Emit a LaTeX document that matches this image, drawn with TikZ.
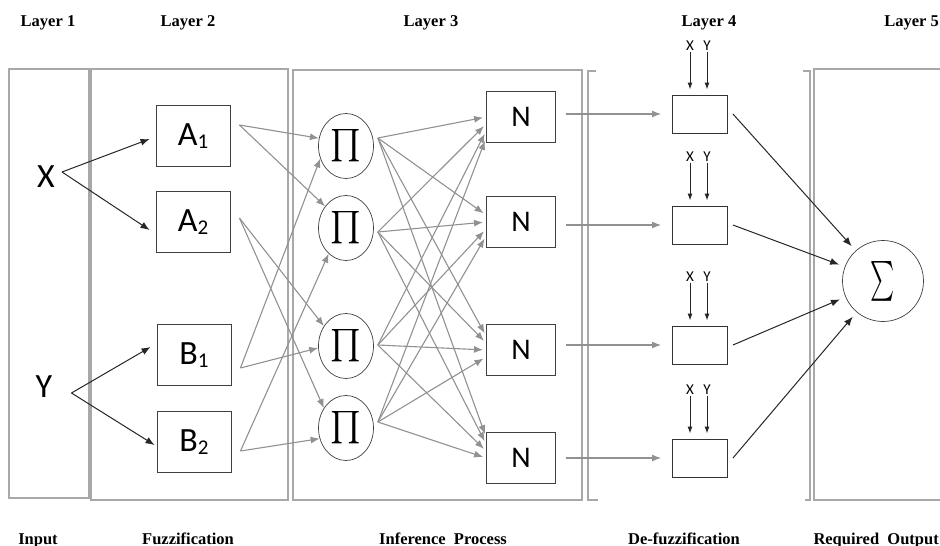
\documentclass[tikz,border=0pt]{standalone}
\usepackage{fontspec}
\setmainfont{Liberation Serif}
\newfontfamily\cfont{Carlito}
\usepackage{amsmath}
\usepackage{graphicx}
\usetikzlibrary{positioning,shapes.geometric,arrows.meta}
\definecolor{panelgray}{RGB}{168,168,168}
\definecolor{linkgray}{RGB}{145,145,145}

\begin{document}
\begin{tikzpicture}[
    x=1pt, y=-1pt,
    layerlbl/.style={font=\bfseries\fontsize{16.5}{16.5}\selectfont, anchor=base},
    panel/.style={draw=panelgray, line width=1.6pt},
    mfbox/.style={draw=black!75, line width=0.9pt, minimum width=74pt, minimum height=61pt, inner sep=0pt, font=\cfont\fontsize{34}{34}\selectfont},
    normbox/.style={draw=black!75, line width=0.9pt, minimum width=69pt, minimum height=51pt, inner sep=0pt, font=\cfont\fontsize{30}{30}\selectfont},
    defbox/.style={draw=black!80, line width=0.9pt, minimum width=55pt, minimum height=38pt, inner sep=0pt},
    rulenode/.style={ellipse, draw=black!75, line width=0.7pt, minimum width=55pt, minimum height=65pt, inner sep=0pt},
    inp/.style={font=\cfont\fontsize{34}{34}\selectfont, inner sep=3pt},
    xylbl/.style={font=\cfont\fontsize{15}{15}\selectfont, inner sep=1pt},
    garrow/.style={draw=linkgray, line width=1.1pt, -{Latex[length=9pt,width=7pt]}},
    barrow/.style={draw=black!85, line width=1pt, -{Latex[length=9pt,width=7pt]}},
    sarrow/.style={draw=black!85, line width=1pt, -{Latex[length=7pt,width=5pt]}}
]
    \useasboundingbox (0,0) rectangle (940,546);

    % Layer frames
    \draw[panel] (9,69) rectangle (89,498);
    \draw[panel] (91,69) rectangle (288,500);
    \draw[panel] (293,70) rectangle (582,500);
    \draw[panel] (596,71) -- (588,71) -- (588,500) -- (598,500);
    \draw[panel] (803,71) -- (810,71) -- (810,500) -- (805,500);
    \draw[panel] (960,69) -- (814,69) -- (814,500) -- (960,500);

    % Titles
    \node[layerlbl] (t1) at (48,27) {Layer 1};
    \node[layerlbl] (t2) at (188,27) {Layer 2};
    \node[layerlbl] (t3) at (431,27) {Layer 3};
    \node[layerlbl] (t4) at (709,27) {Layer 4};
    \node[layerlbl, anchor=base east, inner sep=1pt] (t5) at (940,27) {Layer 5};
    \node[layerlbl] (b1) at (38,544) {Input};
    \node[layerlbl] (b2) at (188,544) {Fuzzification};
    \node[layerlbl] (b3) at (443,544) {Inference\ \ Process};
    \node[layerlbl] (b4) at (684,544) {De-fuzzification};
    \node[layerlbl, anchor=base east, inner sep=1pt] (b5) at (940,544) {Required\ \ Output};

    % Inputs
    \node[inp] (X) at (46,177) {X};
    \node[inp] (Y) at (44,387) {Y};

    % Fuzzification
    \node[mfbox] (A1) at (193,136) {A\raisebox{-3pt}{\fontsize{21}{21}\selectfont 1}};
    \node[mfbox] (A2) at (193,222) {A\raisebox{-3pt}{\fontsize{21}{21}\selectfont 2}};
    \node[mfbox] (B1) at (194,355) {B\raisebox{-3pt}{\fontsize{21}{21}\selectfont 1}};
    \node[mfbox] (B2) at (194,442) {B\raisebox{-3pt}{\fontsize{21}{21}\selectfont 2}};

    \draw[barrow] ([xshift=4pt,yshift=5pt]X.east) -- ([xshift=-6pt,yshift=-3pt]A1.west);
    \draw[barrow] ([xshift=4pt,yshift=5pt]X.east) -- ([xshift=-6pt,yshift=-8pt]A2.west);
    \draw[barrow] ([xshift=16pt,yshift=-6pt]Y.east) -- ([xshift=-6pt,yshift=8pt]B1.west);
    \draw[barrow] ([xshift=16pt,yshift=-6pt]Y.east) -- ([xshift=-2pt,yshift=-3pt]B2.west);

    % Rule layer
    \foreach \i/\y in {1/146,2/228,3/346,4/428}
        \node[rulenode] (P\i) at (346,\y) {\fontsize{24}{24}\selectfont\scalebox{1.3}{$\prod$}};

    \coordinate (a1o) at ([xshift=9pt,yshift=11pt]A1.east);
    \coordinate (a2o) at ([xshift=9pt,yshift=4pt]A2.east);
    \coordinate (b1o) at ([xshift=9pt,yshift=-13pt]B1.east);
    \coordinate (b2o) at ([xshift=9pt,yshift=-9pt]B2.east);

    \draw[garrow] (a1o) -- (P1.164);
    \draw[garrow] (a1o) -- (P2.134);
    \draw[garrow] (a2o) -- (P3.138);
    \draw[garrow] (a2o) -- (P4.138);
    \draw[garrow] (b1o) -- (P1.206);
    \draw[garrow] (b1o) -- (P3.184);
    \draw[garrow] (b2o) -- (P2.236);
    \draw[garrow] (b2o) -- (P4.202);

    % Normalisation
    \foreach \i/\y in {1/117,2/222,3/350,4/458}
        \node[normbox] (N\i) at (521,\y) {N};

    \coordinate (p1o) at ([xshift=4pt,yshift=8pt]P1.east);
    \coordinate (p2o) at ([xshift=4pt,yshift=-4pt]P2.east);
    \coordinate (p3o) at ([xshift=4pt,yshift=1pt]P3.east);
    \coordinate (p4o) at ([xshift=4pt,yshift=6pt]P4.east);

    \foreach \i in {1,...,4}
        \foreach \j in {1,...,4}
            \draw[garrow, shorten >=3pt] (p\i o) -- ([yshift={-7pt*(\i-\j)}]N\j.west);

    % De-fuzzification
    \foreach \i/\y in {1/114,2/225,3/345,4/458} {
        \node[defbox] (D\i) at (700,\y) {};
        \node[xylbl] (x\i) at ([xshift=-10pt,yshift=49pt]D\i.north) {X};
        \node[xylbl] (y\i) at ([xshift=7pt,yshift=49pt]D\i.north) {Y};
        \draw[sarrow, shorten >=5pt] (x\i) -- (x\i |- D\i.north);
        \draw[sarrow, shorten >=5pt] (y\i) -- (y\i |- D\i.north);
        \draw[garrow, shorten <=10pt, shorten >=11pt] (N\i.east |- D\i.west) -- (D\i.west);
    }

    % Output
    \node[circle, draw=black!75, line width=0.7pt, minimum size=81pt, inner sep=0pt] (S) at (883,281)
        {\fontsize{24}{24}\selectfont\scalebox{0.92}[1.6]{$\sum$}};

    \foreach \i in {1,...,4}
        \draw[barrow, shorten >=6pt] ([xshift=5pt]D\i.east) -- (S);
\end{tikzpicture}
\end{document}
